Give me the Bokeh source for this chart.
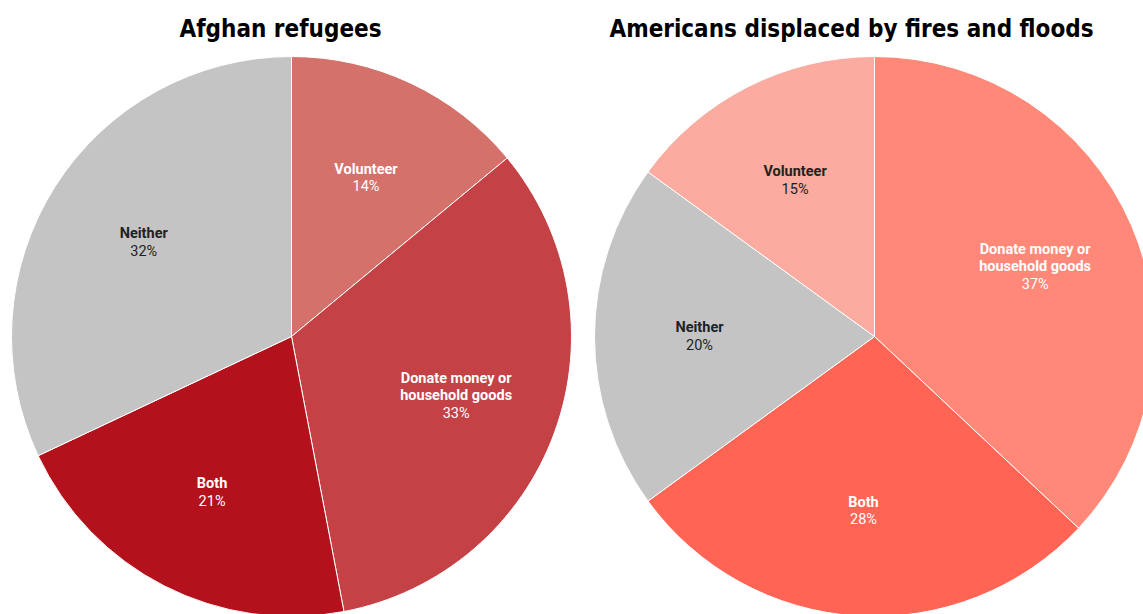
import numpy as np
from bokeh.plotting import figure
from bokeh.models import Range1d, ColumnDataSource
from bokeh.core.properties import value
from bokeh.embed import file_html
from bokeh.resources import INLINE

# ---- data ----
left_title = "Afghan refugees"
left_labels = ["Volunteer", "Donate money or\nhousehold goods", "Both", "Neither"]
left_values = [14, 33, 21, 32]
left_colors = ["#d4716b", "#c44145", "#b3121c", "#c4c4c4"]
left_text_colors = ["#ffffff", "#ffffff", "#ffffff", "#222222"]

right_title = "Americans displaced by fires and floods"
right_labels = ["Donate money or\nhousehold goods", "Both", "Neither", "Volunteer"]
right_values = [37, 28, 20, 15]
right_colors = ["#ff8878", "#ff6454", "#c4c4c4", "#fbab9f"]
right_text_colors = ["#ffffff", "#ffffff", "#222222", "#222222"]

# ---- layout (screen px) ----
W, H = 1143, 614
def sy(screen_y):
    return H - screen_y

p = figure(width=W, height=H, output_backend="svg", toolbar_location=None,
           x_range=Range1d(0, W), y_range=Range1d(0, H),
           min_border=0, min_border_left=0, min_border_right=0,
           min_border_top=0, min_border_bottom=0)
p.axis.visible = False
p.grid.visible = False
p.outline_line_color = None
p.background_fill_color = "white"

R = 280
LABEL_R = 0.625 * R
LINE_H = 17.5

def draw_pie(cx, cy_screen, labels, values, colors, tcolors, title, title_x):
    cy = sy(cy_screen)
    vals = np.array(values, dtype=float)
    frac = vals / vals.sum()
    cum = np.concatenate([[0], np.cumsum(frac)])
    start = np.pi / 2 - 2 * np.pi * cum[:-1]
    end = np.pi / 2 - 2 * np.pi * cum[1:]
    src = ColumnDataSource(dict(start=start, end=end, color=colors))
    p.wedge(x=cx, y=cy, radius=R, start_angle="start", end_angle="end",
            direction="clock", fill_color="color", line_color="white",
            line_width=1, source=src)
    mid = (start + end) / 2
    bx, by, btxt, bcol, boff = [], [], [], [], []
    px_, py_, ptxt, pcol, poff = [], [], [], [], []
    for i, lab in enumerate(labels):
        lx = cx + LABEL_R * np.cos(mid[i])
        ly = cy + LABEL_R * np.sin(mid[i])
        name_lines = lab.split("\n")
        n = len(name_lines) + 1
        top = -(n - 1) * LINE_H / 2
        for j, ln in enumerate(name_lines):
            bx.append(lx); by.append(ly); btxt.append(ln); bcol.append(tcolors[i])
            boff.append(top + j * LINE_H)
        px_.append(lx); py_.append(ly); ptxt.append(f"{values[i]}%"); pcol.append(tcolors[i])
        poff.append(top + len(name_lines) * LINE_H)
    p.text(x="x", y="y", text="t", text_color="c", y_offset="o",
           source=ColumnDataSource(dict(x=bx, y=by, t=btxt, c=bcol, o=boff)),
           text_font=value("Roboto"), text_font_style="bold", text_font_size="14.5px",
           text_align="center", text_baseline="middle")
    p.text(x="x", y="y", text="t", text_color="c", y_offset="o",
           source=ColumnDataSource(dict(x=px_, y=py_, t=ptxt, c=pcol, o=poff)),
           text_font=value("Roboto"), text_font_style="normal", text_font_size="14.5px",
           text_align="center", text_baseline="middle")
    p.text(x=[title_x], y=[sy(28)], text=[title], text_font=value("DejaVu Sans Condensed"),
           text_font_style="bold", text_font_size="24px", text_color="#000000",
           text_align="center", text_baseline="middle")

draw_pie(291, 336, left_labels, left_values, left_colors, left_text_colors, left_title, 280)
draw_pie(874, 336, right_labels, right_values, right_colors, right_text_colors, right_title, 851)

open("out.html", "w").write(file_html(p, INLINE))
